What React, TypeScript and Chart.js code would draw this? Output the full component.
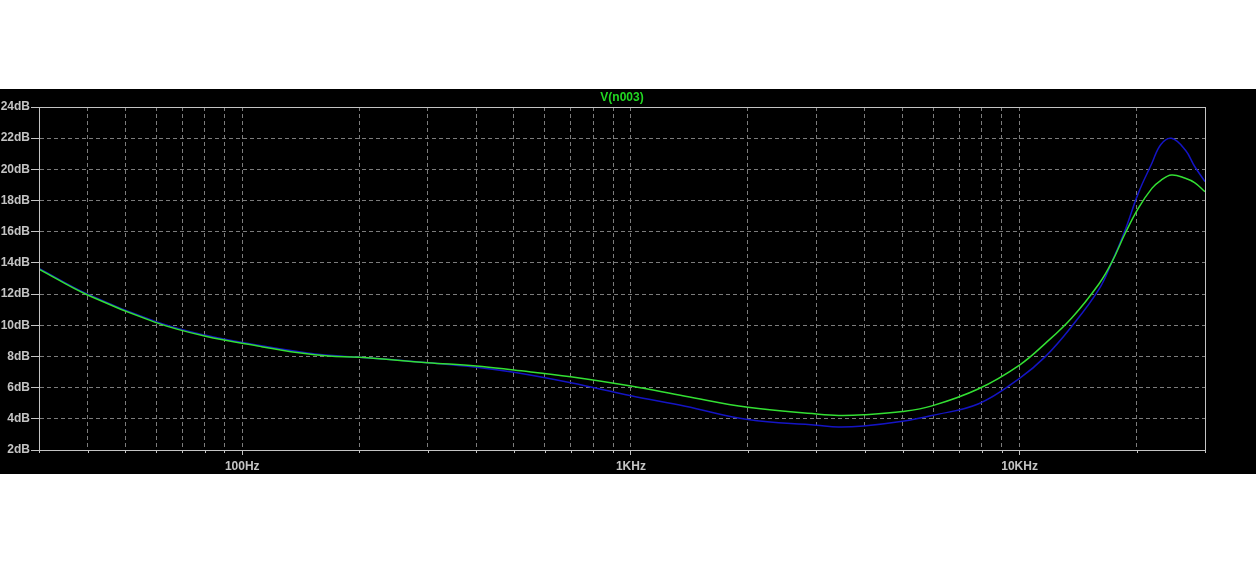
import React, { useEffect, useRef } from "react";
import { Chart, registerables } from "chart.js";

Chart.register(...registerables);

const freqs = [30, 40, 60, 80, 112, 140, 167, 200, 300, 400, 500, 700, 1000, 1380, 2000, 3000, 3420, 3970, 5000, 5950, 7850, 10000, 11650, 13600, 16000, 17300, 18700, 20200, 21900, 23100, 24600, 26700, 28200, 30000];
const greenDb = [13.6, 11.94, 10.17, 9.31, 8.63, 8.24, 8.03, 7.95, 7.6, 7.39, 7.13, 6.7, 6.1, 5.45, 4.74, 4.31, 4.22, 4.26, 4.47, 4.83, 5.93, 7.45, 8.84, 10.45, 12.65, 14.08, 15.9, 17.5, 18.78, 19.3, 19.64, 19.43, 19.15, 18.57];
const blueDb = [13.65, 12.0, 10.23, 9.37, 8.68, 8.3, 8.07, 7.95, 7.6, 7.31, 6.98, 6.31, 5.48, 4.81, 3.95, 3.59, 3.47, 3.54, 3.84, 4.21, 4.97, 6.6, 7.99, 9.91, 12.3, 14.08, 16.11, 18.46, 20.39, 21.6, 21.99, 21.24, 20.2, 19.21];

const xTickValues = [30, 40, 50, 60, 70, 80, 90, 100, 200, 300, 400, 500, 600, 700, 800, 900, 1000, 2000, 3000, 4000, 5000, 6000, 7000, 8000, 9000, 10000, 20000, 30000];
const xMajorValues = [100, 1000, 10000];
const xMajorLabels = ["100Hz", "1KHz", "10KHz"];
const yMin = 2;
const yMax = 24;
const yStep = 2;
const titleText = "V(n003)";

const LABEL_COLOR = "#c4c4c4";
const GRID_COLOR = "#7c7c7c";
const FONT = "'Liberation Sans', Arial, sans-serif";

export default function App() {
  const ref = useRef<HTMLCanvasElement | null>(null);

  useEffect(() => {
    if (!ref.current) return;
    const framePlugin = {
      id: "framePlugin",
      afterDraw(chart: any) {
        const { ctx, chartArea } = chart;
        const { left, right, top, bottom } = chartArea;
        ctx.save();
        const xs = chart.scales.x;
        ctx.strokeStyle = LABEL_COLOR;
        ctx.lineWidth = 1;
        ctx.beginPath();
        xTickValues.forEach((v) => {
          if (xMajorValues.includes(v)) return;
          const px = Math.round(xs.getPixelForValue(v)) + 0.5;
          ctx.moveTo(px, bottom);
          ctx.lineTo(px, bottom + 3);
        });
        ctx.stroke();
        ctx.strokeStyle = LABEL_COLOR;
        ctx.strokeRect(Math.round(left) + 0.5, Math.round(top) + 0.5, Math.round(right - left), Math.round(bottom - top));
        ctx.fillStyle = "#22d822";
        ctx.font = "bold 12px " + FONT;
        ctx.textAlign = "center";
        ctx.textBaseline = "middle";
        ctx.fillText(titleText, (left + right) / 2, 9);
        ctx.restore();
      },
    };

    const chart = new Chart(ref.current, {
      type: "line",
      data: {
        labels: freqs,
        datasets: [
          {
            label: "V(n003) gain",
            data: freqs.map((f, i) => ({ x: f, y: greenDb[i] })),
            borderColor: "#33e033",
            borderWidth: 1.5,
            pointRadius: 0,
            tension: 0.4,
            order: 0,
          },
          {
            label: "V(n003) ref",
            data: freqs.map((f, i) => ({ x: f, y: blueDb[i] })),
            borderColor: "#1414c4",
            borderWidth: 1.5,
            pointRadius: 0,
            tension: 0.4,
            order: 1,
          },
        ],
      },
      options: {
        animation: false,
        responsive: false,
        maintainAspectRatio: false,
        layout: { padding: { top: 18, right: 51, left: 0, bottom: 0 } },
        plugins: { legend: { display: false }, title: { display: false }, tooltip: { enabled: false } },
        scales: {
          x: {
            type: "logarithmic",
            min: 30,
            max: 30000,
            afterBuildTicks: (scale: any) => {
              scale.ticks = xTickValues.map((v) => ({ value: v }));
            },
            afterFit: (scale: any) => {
              scale.height = 24;
            },
            grid: {
              color: GRID_COLOR,
              lineWidth: 1,
              drawTicks: true,
              tickLength: 5,
              tickColor: (ctx: any) => (ctx.tick && xMajorValues.includes(ctx.tick.value) ? LABEL_COLOR : "rgba(0,0,0,0)"),
            },
            border: { display: true, color: LABEL_COLOR, dash: [4, 3] },
            ticks: {
              autoSkip: false,
              maxRotation: 0,
              minRotation: 0,
              padding: 4,
              color: LABEL_COLOR,
              font: { family: FONT, size: 12, weight: "bold" },
              callback: (v: any) => {
                const idx = xMajorValues.indexOf(Number(v));
                return idx >= 0 ? xMajorLabels[idx] : "";
              },
            },
          },
          y: {
            type: "linear",
            min: yMin,
            max: yMax,
            afterFit: (scale: any) => {
              scale.width = 39;
            },
            grid: {
              color: GRID_COLOR,
              lineWidth: 1,
              drawTicks: true,
              tickLength: 8,
              tickColor: LABEL_COLOR,
            },
            border: { display: true, color: LABEL_COLOR, dash: [4, 3] },
            ticks: {
              stepSize: yStep,
              padding: 1,
              color: LABEL_COLOR,
              font: { family: FONT, size: 12, weight: "bold" },
              callback: (v: any) => v + "dB",
            },
          },
        },
      },
      plugins: [framePlugin],
    } as any);
    return () => chart.destroy();
  }, []);

  return (
    <div style={{ position: "absolute", left: 0, top: 0, width: 1256, height: 564, background: "#fff" }}>
      <div style={{ position: "absolute", left: 0, top: 89, width: 1256, height: 385, background: "#000" }}>
        <canvas ref={ref} width={1256} height={385} style={{ display: "block", width: 1256, height: 385 }} />
      </div>
    </div>
  );
}
